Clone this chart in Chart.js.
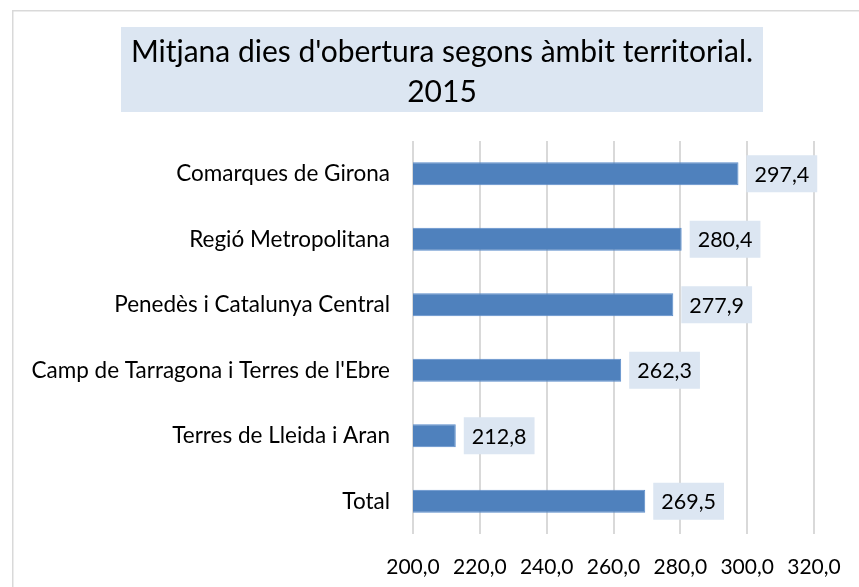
<!DOCTYPE html>
<html>
<head>
<meta charset="utf-8">
<script src="https://cdn.jsdelivr.net/npm/chart.js@4/dist/chart.umd.min.js"></script>
<style>
  html, body { margin: 0; padding: 0; background: #ffffff; }
  #wrap { width: 859px; height: 587px; position: relative; }
</style>
</head>
<body>
<div id="wrap"><canvas id="c" width="859" height="587"></canvas></div>
<script>
const titleLines = ["Mitjana dies d'obertura segons àmbit territorial.", "2015"];
const categories = [
  "Comarques de Girona",
  "Regió Metropolitana",
  "Penedès i Catalunya Central",
  "Camp de Tarragona i Terres de l'Ebre",
  "Terres de Lleida i Aran",
  "Total"
];
const values = [297.4, 280.4, 277.9, 262.3, 212.8, 269.5];
const axisMin = 200;
const axisMax = 320;
const axisStep = 20;

const FONT = "Lato, 'Open Sans', sans-serif";
const fmt = v => Number(v).toFixed(1).replace('.', ',');

const framePlugin = {
  id: 'frame',
  beforeDraw(chart) {
    const ctx = chart.ctx;
    ctx.save();
    ctx.fillStyle = '#ffffff';
    ctx.fillRect(0, 0, chart.width, chart.height);
    ctx.strokeStyle = '#d9d9d9';
    ctx.lineWidth = 1.5;
    ctx.strokeRect(12.75, 10.75, 1000, 1000);
    // title box
    ctx.fillStyle = '#dce6f2';
    ctx.fillRect(121, 27, 642, 85);
    ctx.fillStyle = '#000000';
    ctx.font = "30px " + FONT;
    ctx.textAlign = 'center';
    ctx.textBaseline = 'middle';
    ctx.fillText(titleLines[0], 442, 52);
    ctx.fillText(titleLines[1], 442, 92);
    ctx.restore();
  }
};

const labelPlugin = {
  id: 'boxLabels',
  afterDatasetsDraw(chart) {
    const ctx = chart.ctx;
    const meta = chart.getDatasetMeta(0);
    ctx.save();
    ctx.font = "21.5px " + FONT;
    ctx.textBaseline = 'middle';
    ctx.textAlign = 'left';
    meta.data.forEach((bar, i) => {
      const txt = fmt(chart.data.datasets[0].data[i]);
      const w = ctx.measureText(txt).width;
      const padX = 8, h = 37;
      const x0 = bar.x + 8;
      const y0 = bar.y - h / 2;
      ctx.fillStyle = '#dce6f2';
      ctx.fillRect(x0, y0, w + padX * 2, h);
      ctx.fillStyle = '#000000';
      ctx.fillText(txt, x0 + padX, bar.y + 1);
    });
    ctx.restore();
  }
};

new Chart(document.getElementById('c'), {
  type: 'bar',
  data: {
    labels: categories,
    datasets: [{
      data: values,
      backgroundColor: '#4f81bd',
      borderColor: '#5b8ccb',
      borderWidth: 1,
      barPercentage: 0.35,
      categoryPercentage: 1.0
    }]
  },
  options: {
    indexAxis: 'y',
    responsive: false,
    animation: false,
    devicePixelRatio: 1,
    layout: { padding: { top: 141, right: 45, bottom: 0, left: 0 } },
    plugins: {
      legend: { display: false },
      title: { display: false },
      tooltip: { enabled: false }
    },
    scales: {
      x: {
        min: axisMin,
        max: axisMax,
        ticks: {
          stepSize: axisStep,
          callback: v => fmt(v),
          color: '#000000',
          font: { family: FONT, size: 21 },
          padding: 21,
          maxRotation: 0
        },
        grid: { color: '#d9d9d9', lineWidth: 2, drawTicks: false },
        border: { display: false },
        afterFit(scale) { scale.height = 53; scale.paddingRight = 0; scale.paddingLeft = 0; }
      },
      y: {
        ticks: {
          color: '#000000',
          font: { family: FONT, size: 22.5 },
          padding: 23
        },
        grid: { display: false, drawTicks: false },
        border: { display: false },
        afterFit(scale) { scale.width = 413; }
      }
    }
  },
  plugins: [framePlugin, labelPlugin]
});
</script>
</body>
</html>
